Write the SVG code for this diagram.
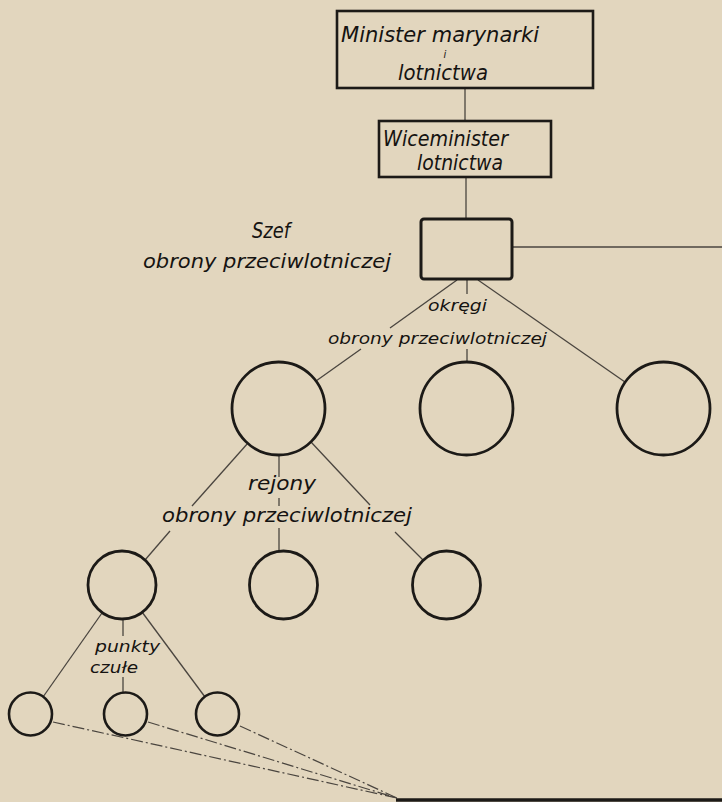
<svg xmlns="http://www.w3.org/2000/svg" width="722" height="802" viewBox="0 0 722 802">
<style>
.bg{fill:#e2d6be}
.box{fill:none;stroke:#1c1a17;stroke-width:2.6}
.ring{fill:none;stroke:#1c1a17;stroke-width:2.8}
.conn{fill:none;stroke:#4a453f;stroke-width:1.3}
.dd{fill:none;stroke:#4a453f;stroke-width:1.2;stroke-dasharray:12 3 2 3}
text{font-family:"DejaVu Sans","Liberation Sans",sans-serif;font-style:italic;fill:#151311}
.t22{font-size:22px}
.t19{font-size:19px}
.t16{font-size:16px}
</style>
<rect class="bg" x="0" y="0" width="722" height="802"/>

<g id="connectors">
  <line class="conn" x1="465" y1="88" x2="465" y2="121"/>
  <line class="conn" x1="466" y1="177" x2="466" y2="219"/>
  <line class="conn" x1="512" y1="247" x2="722" y2="247" style="stroke-width:1.6"/>
  <line class="conn" x1="457" y1="280" x2="390" y2="328"/>
  <line class="conn" x1="361" y1="349" x2="316" y2="381"/>
  <line class="conn" x1="467" y1="280" x2="467" y2="294"/>
  <line class="conn" x1="467" y1="349" x2="467" y2="362"/>
  <line class="conn" x1="478" y1="280" x2="625" y2="382"/>
  <line class="conn" x1="248" y1="443" x2="192" y2="506"/>
  <line class="conn" x1="170" y1="531" x2="145" y2="560"/>
  <line class="conn" x1="279" y1="455" x2="279" y2="477"/>
  <line class="conn" x1="279" y1="498" x2="279" y2="506"/>
  <line class="conn" x1="279" y1="528" x2="279" y2="551"/>
  <line class="conn" x1="311" y1="442" x2="370" y2="505"/>
  <line class="conn" x1="395" y1="532" x2="423" y2="560"/>
  <line class="conn" x1="102" y1="613" x2="43" y2="697"/>
  <line class="conn" x1="123" y1="619" x2="123" y2="636"/>
  <line class="conn" x1="123" y1="677" x2="123" y2="693"/>
  <line class="conn" x1="142" y1="612" x2="205" y2="697"/>
  <line class="dd" x1="53" y1="722" x2="397" y2="798"/>
  <line class="dd" x1="148" y1="722" x2="397" y2="798"/>
  <line class="dd" x1="240" y1="726" x2="397" y2="798"/>
</g>

<g id="n-minister">
  <rect class="box" x="337" y="11" width="256" height="77"/>
  <text class="t22" x="341" y="42" textLength="198" lengthAdjust="spacingAndGlyphs">Minister marynarki</text>
  <text x="445" y="58" style="font-size:10px" text-anchor="middle">i</text>
  <text class="t22" x="398" y="80" textLength="90" lengthAdjust="spacingAndGlyphs">lotnictwa</text>
</g>

<g id="n-wiceminister">
  <rect class="box" x="379" y="121" width="172" height="56"/>
  <text class="t22" x="383" y="146" textLength="125" lengthAdjust="spacingAndGlyphs">Wiceminister</text>
  <text class="t22" x="417" y="170" textLength="86" lengthAdjust="spacingAndGlyphs">lotnictwa</text>
</g>

<g id="n-szef">
  <rect class="box" x="421" y="219" width="91" height="60" rx="3" style="stroke-width:3"/>
  <text class="t22" x="252" y="238" textLength="38" lengthAdjust="spacingAndGlyphs">Szef</text>
  <text class="t19" x="143" y="268" textLength="248" lengthAdjust="spacingAndGlyphs">obrony przeciwlotniczej</text>
</g>

<g id="label-okregi">
  <text class="t16" x="428" y="311" textLength="59" lengthAdjust="spacingAndGlyphs">okręgi</text>
  <text class="t16" x="328" y="344" textLength="219" lengthAdjust="spacingAndGlyphs">obrony przeciwlotniczej</text>
</g>

<g id="n-okreg-1"><circle class="ring" cx="278.5" cy="408.5" r="46.5"/></g>
<g id="n-okreg-2"><circle class="ring" cx="466.5" cy="408.5" r="46.5"/></g>
<g id="n-okreg-3"><circle class="ring" cx="663.5" cy="408.5" r="46.5"/></g>

<g id="label-rejony">
  <text class="t19" x="248" y="490" textLength="68" lengthAdjust="spacingAndGlyphs">rejony</text>
  <text class="t19" x="162" y="522" textLength="250" lengthAdjust="spacingAndGlyphs">obrony przeciwlotniczej</text>
</g>

<g id="n-rejon-1"><circle class="ring" cx="122" cy="585" r="34"/></g>
<g id="n-rejon-2"><circle class="ring" cx="283.5" cy="585" r="34"/></g>
<g id="n-rejon-3"><circle class="ring" cx="446.5" cy="585" r="34"/></g>

<g id="label-punkty">
  <text class="t16" x="95" y="652" textLength="65" lengthAdjust="spacingAndGlyphs">punkty</text>
  <text class="t16" x="90" y="673" textLength="48" lengthAdjust="spacingAndGlyphs">czułe</text>
</g>

<g id="n-punkt-1"><circle class="ring" cx="30.5" cy="714" r="21.5" style="stroke-width:2.6"/></g>
<g id="n-punkt-2"><circle class="ring" cx="125.5" cy="714" r="21.5" style="stroke-width:2.6"/></g>
<g id="n-punkt-3"><circle class="ring" cx="217.5" cy="714" r="21.5" style="stroke-width:2.6"/></g>

<g id="n-bottom">
  <line x1="396" y1="800" x2="722" y2="800" style="stroke:#1c1a17;stroke-width:3.5"/>
</g>
</svg>
